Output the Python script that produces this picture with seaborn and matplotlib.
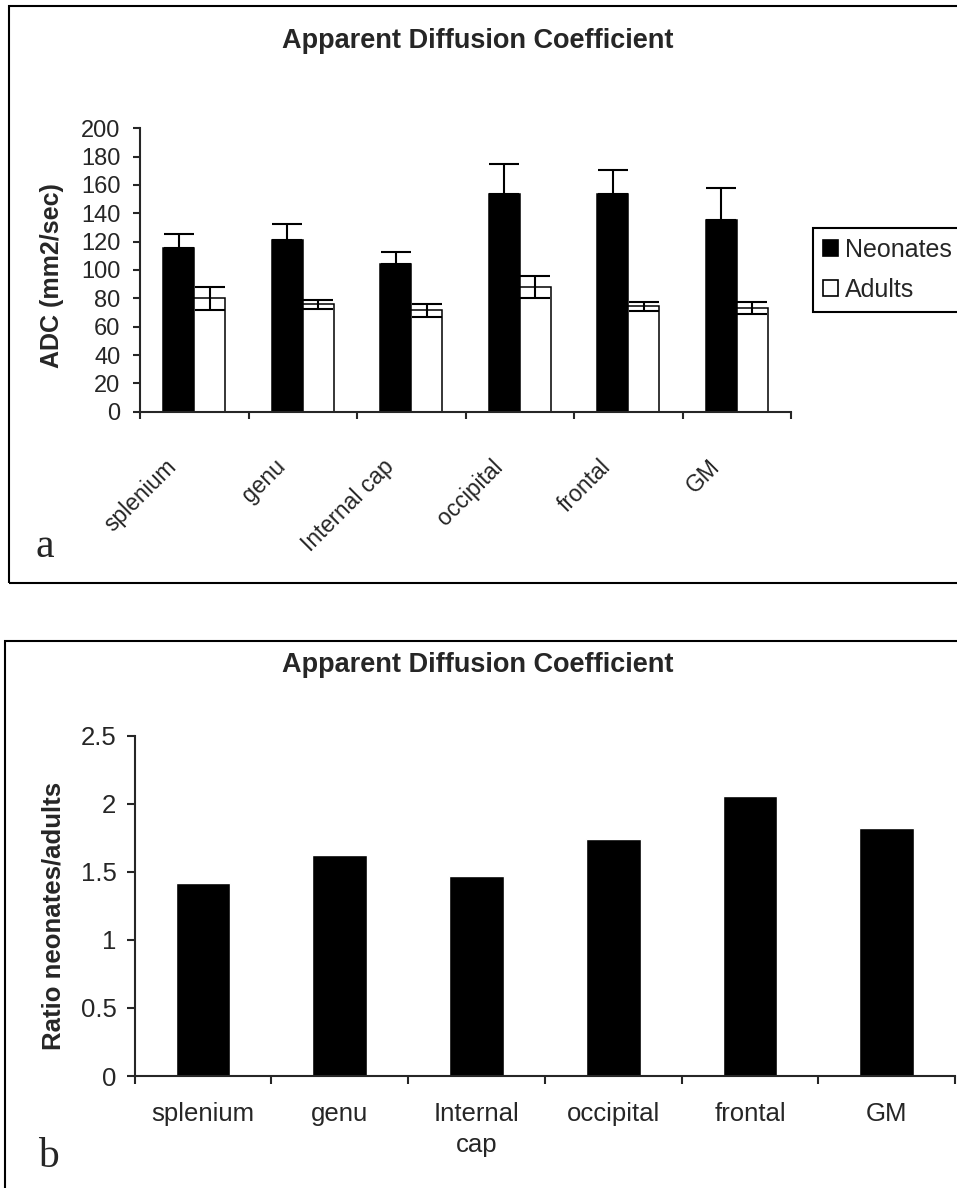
import matplotlib
matplotlib.use("Agg")
import matplotlib.pyplot as plt
import seaborn as sns
import pandas as pd
import numpy as np
from matplotlib.patches import Rectangle, Patch
from matplotlib.ticker import FormatStrFormatter
from matplotlib.transforms import ScaledTranslation

# ---------------- data ----------------
regions = ["splenium", "genu", "Internal cap", "occipital", "frontal", "GM"]
regions_b = ["splenium", "genu", "Internal\ncap", "occipital", "frontal", "GM"]
groups = ["Neonates", "Adults"]
neonates_adc = [115.3, 121.0, 104.0, 153.4, 153.4, 135.0]
neonates_sd = [10.1, 11.5, 8.7, 21.6, 17.2, 22.9]
adults_adc = [80.0, 75.8, 71.5, 88.2, 74.4, 73.0]
adults_sd = [8.0, 3.0, 4.5, 7.8, 3.0, 4.4]
ratio = [1.42, 1.62, 1.47, 1.74, 2.06, 1.82]
adc_ticks = list(range(0, 201, 20))
ratio_ticks = [0, 0.5, 1, 1.5, 2, 2.5]
title = "Apparent Diffusion Coefficient"

# ---------------- style ----------------
sns.set_style("ticks")
plt.rcParams["font.family"] = ["Liberation Sans", "DejaVu Sans"]

W, H = 957, 1188
fig = plt.figure(figsize=(W / 100, H / 100), dpi=100)


def fx(px):
    return px / W


def fy(py):
    return 1 - py / H


# ---------------- panel a ----------------
ax1 = fig.add_axes([fx(140), fy(411.7), fx(791) - fx(140), fy(128.3) - fy(411.7)])
df1 = pd.DataFrame({
    "region": regions * 2,
    "group": [groups[0]] * len(regions) + [groups[1]] * len(regions),
    "adc": neonates_adc + adults_adc,
})
sns.barplot(data=df1, x="region", y="adc", hue="group", order=regions,
            hue_order=groups, palette={"Neonates": "black", "Adults": "white"},
            width=0.57, gap=0, edgecolor="black", linewidth=1.1,
            errorbar=None, legend=False, saturation=1, ax=ax1)

xs_n = [b.get_x() + b.get_width() / 2 for b in ax1.containers[0]]
xs_a = [b.get_x() + b.get_width() / 2 for b in ax1.containers[1]]
ax1.errorbar(xs_n, neonates_adc, yerr=[[0] * len(neonates_sd), neonates_sd],
             fmt="none", ecolor="black", elinewidth=1.5, capsize=11, capthick=1.5)
ax1.errorbar(xs_a, adults_adc, yerr=adults_sd,
             fmt="none", ecolor="black", elinewidth=1.5, capsize=11, capthick=1.5)

ax1.set_xlim(-0.5, len(regions) - 0.5)
ax1.set_ylim(0, 200)
sns.despine(ax=ax1)
for s in ("left", "bottom"):
    ax1.spines[s].set_linewidth(1.5)
ax1.set_yticks(adc_ticks)
ax1.tick_params(axis="y", length=5, width=1.5, pad=9, labelsize=17, direction="out")
ax1.set_xticks(range(len(regions)))
ax1.set_xticklabels(regions, rotation=45, ha="right", va="center",
                    rotation_mode="anchor")
ax1.tick_params(axis="x", which="major", length=0, pad=37, labelsize=16.5)
ax1.set_xticks(np.arange(-0.5, len(regions), 1), minor=True)
ax1.tick_params(axis="x", which="minor", length=5, width=1.5, direction="out")
off = ScaledTranslation(-15 / 72, 0, fig.dpi_scale_trans)
for lab in ax1.get_xticklabels():
    lab.set_transform(lab.get_transform() + off)
ax1.set_xlabel("")
ax1.set_ylabel("ADC (mm2/sec)", fontsize=18, fontweight="bold")
ax1.yaxis.set_label_coords((52 - 140) / 651, 0.48)
ax1.yaxis.label.set_verticalalignment("center")

handles = [Patch(facecolor="black", edgecolor="black", linewidth=1.2),
           Patch(facecolor="white", edgecolor="black", linewidth=1.2)]
leg = fig.legend(handles, groups, loc="upper left",
                 bbox_to_anchor=(fx(812.7), fy(227.7)), bbox_transform=fig.transFigure,
                 frameon=True, fancybox=False, edgecolor="black", framealpha=1,
                 fontsize=18, handlelength=0.6, handleheight=0.6,
                 handletextpad=0.3, borderpad=0.4, labelspacing=0.65,
                 borderaxespad=0)
leg.get_frame().set_linewidth(1.5)

fig.text(0.499, fy(41), title, ha="center", va="center", fontsize=19.5,
         fontweight="bold")
fig.text(fx(45), fy(557), "a", ha="center", va="baseline", fontsize=30,
         family=["Liberation Serif", "DejaVu Serif"])

# ---------------- panel b ----------------
ax2 = fig.add_axes([fx(134.5), fy(1076), fx(955.2) - fx(134.5), fy(735.7) - fy(1076)])
df2 = pd.DataFrame({"region": regions_b, "ratio": ratio})
sns.barplot(data=df2, x="region", y="ratio", color="black", width=0.4,
            errorbar=None, saturation=1, ax=ax2)
ax2.set_xlim(-0.5, len(regions_b) - 0.5)
ax2.set_ylim(0, 2.5)
sns.despine(ax=ax2)
for s in ("left", "bottom"):
    ax2.spines[s].set_linewidth(1.5)
ax2.set_yticks(ratio_ticks)
ax2.yaxis.set_major_formatter(FormatStrFormatter("%g"))
ax2.tick_params(axis="y", length=6, width=1.5, pad=7, labelsize=18.5, direction="out")
ax2.set_xticks(range(len(regions_b)))
ax2.set_xticklabels(regions_b, linespacing=1.35)
ax2.tick_params(axis="x", which="major", length=0, pad=19, labelsize=18.5)
ax2.set_xticks(np.arange(-0.5, len(regions_b), 1), minor=True)
ax2.tick_params(axis="x", which="minor", length=6, width=1.5, direction="out")
ax2.set_xlabel("")
ax2.set_ylabel("Ratio neonates/adults", fontsize=18.5, fontweight="bold")
ax2.yaxis.set_label_coords((54 - 134.5) / 820.7, 0.47)
ax2.yaxis.label.set_verticalalignment("center")

fig.text(0.499, fy(665), title, ha="center", va="center", fontsize=19.5,
         fontweight="bold")
fig.text(fx(48), fy(1167), "b", ha="center", va="baseline", fontsize=30,
         family=["Liberation Serif", "DejaVu Serif"])

# ---------------- panel frames ----------------
fig.add_artist(Rectangle((fx(9), fy(583.3)), 1.0, fy(5.7) - fy(583.3),
                         transform=fig.transFigure, fill=False,
                         edgecolor="black", linewidth=1.5))
fig.add_artist(Rectangle((fx(5), fy(1220)), 1.0, fy(641) - fy(1220),
                         transform=fig.transFigure, fill=False,
                         edgecolor="black", linewidth=1.5))

fig.savefig("out.png", dpi=100)
